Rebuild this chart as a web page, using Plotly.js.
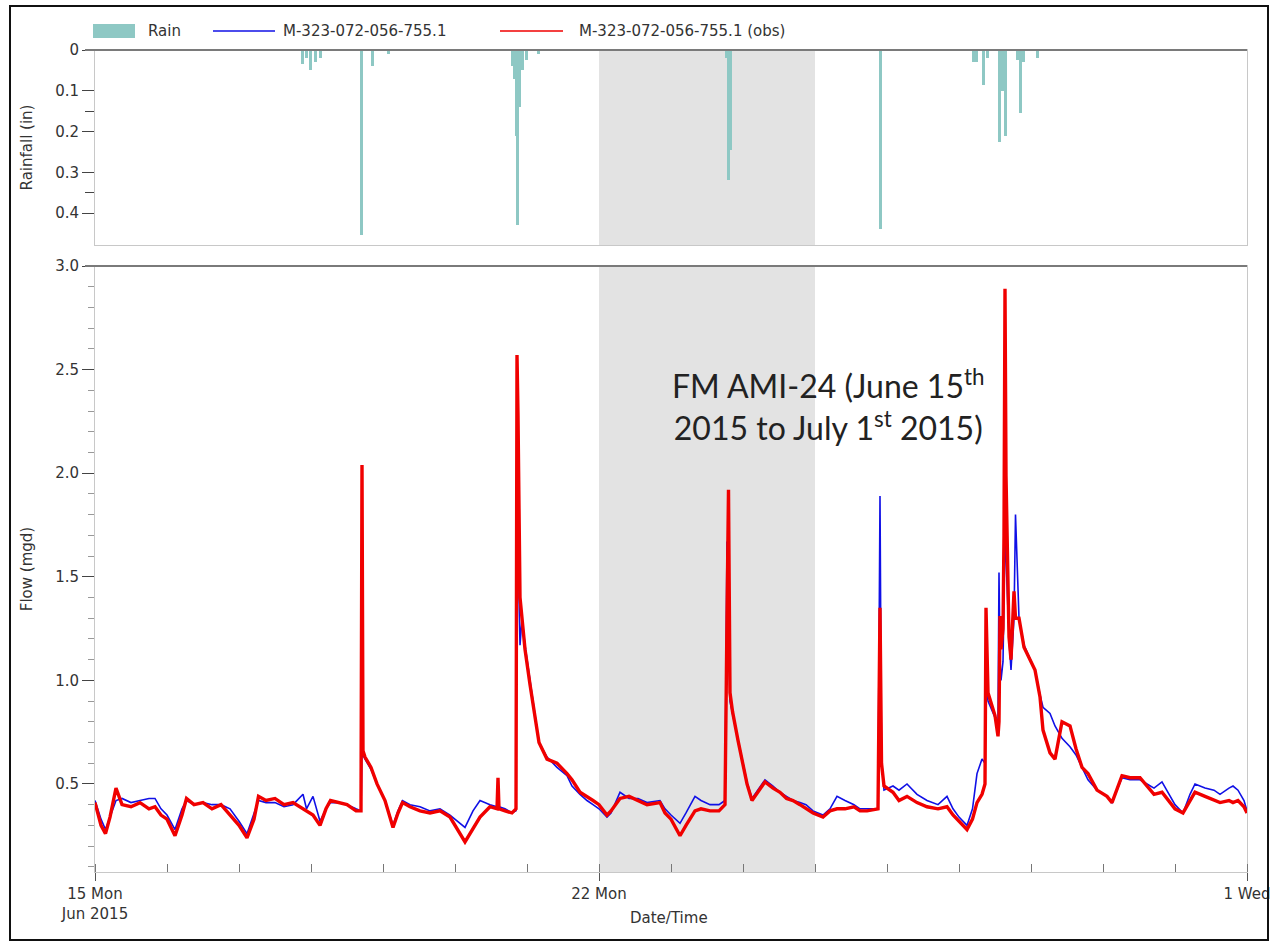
<!DOCTYPE html>
<html>
<head>
<meta charset="utf-8">
<script src="https://cdn.plot.ly/plotly-3.0.1.min.js"></script>
<style>
html,body{margin:0;padding:0;background:#fff;}
#chart{width:1271px;height:944px;}
</style>
</head>
<body>
<div id="chart"></div>
<script>
// ---------- DATA ----------
const rainTimes = [
  "2015-06-17 21:00","2015-06-17 22:20","2015-06-17 23:40","2015-06-18 01:20","2015-06-18 03:00",
  "2015-06-18 16:40","2015-06-18 20:20","2015-06-19 01:40",
  "2015-06-20 19:00","2015-06-20 19:40","2015-06-20 20:20","2015-06-20 20:50","2015-06-20 21:20","2015-06-20 22:20","2015-06-20 23:40","2015-06-21 03:40",
  "2015-06-23 18:20","2015-06-23 19:00","2015-06-23 19:40",
  "2015-06-25 21:40",
  "2015-06-27 04:40","2015-06-27 05:40","2015-06-27 08:00","2015-06-27 09:20","2015-06-27 13:20","2015-06-27 14:20","2015-06-27 15:20",
  "2015-06-27 19:20","2015-06-27 20:20","2015-06-27 21:20","2015-06-28 02:00"
];
const rainValues = [
  0.035,0.02,0.05,0.03,0.02,
  0.455,0.04,0.01,
  0.04,0.07,0.21,0.43,0.14,0.05,0.025,0.01,
  0.02,0.32,0.245,
  0.44,
  0.03,0.03,0.086,0.02,0.225,0.10,0.21,
  0.025,0.155,0.03,0.02
];

const flowTimes = [
  "2015-06-15 00:00","2015-06-15 02:00","2015-06-15 03:30","2015-06-15 05:00","2015-06-15 07:00","2015-06-15 09:00","2015-06-15 12:00","2015-06-15 15:00","2015-06-15 18:00","2015-06-15 20:00","2015-06-15 22:00",
  "2015-06-16 00:00","2015-06-16 02:40","2015-06-16 05:00","2015-06-16 06:30","2015-06-16 09:00","2015-06-16 12:00","2015-06-16 15:00","2015-06-16 18:00","2015-06-16 21:00",
  "2015-06-17 00:00","2015-06-17 02:40","2015-06-17 05:00","2015-06-17 06:30","2015-06-17 09:00","2015-06-17 12:00","2015-06-17 15:00","2015-06-17 18:00","2015-06-17 21:20","2015-06-17 22:30",
  "2015-06-18 00:40","2015-06-18 03:00","2015-06-18 05:00","2015-06-18 06:30","2015-06-18 09:00","2015-06-18 12:00","2015-06-18 15:00","2015-06-18 16:40","2015-06-18 17:00","2015-06-18 17:20","2015-06-18 18:00","2015-06-18 20:00","2015-06-18 22:00",
  "2015-06-19 00:40","2015-06-19 03:20","2015-06-19 05:00","2015-06-19 06:30","2015-06-19 09:00","2015-06-19 12:20","2015-06-19 15:40","2015-06-19 19:00","2015-06-19 22:20",
  "2015-06-20 03:20","2015-06-20 06:00","2015-06-20 08:20","2015-06-20 11:40","2015-06-20 14:00","2015-06-20 14:20","2015-06-20 14:40","2015-06-20 16:40","2015-06-20 19:00","2015-06-20 20:20","2015-06-20 20:40","2015-06-20 21:00","2015-06-20 21:20","2015-06-20 21:40","2015-06-20 22:20","2015-06-20 23:20",
  "2015-06-21 01:00","2015-06-21 02:40","2015-06-21 04:00","2015-06-21 06:40","2015-06-21 10:00","2015-06-21 13:20","2015-06-21 15:00","2015-06-21 17:40","2015-06-21 20:00","2015-06-21 22:00",
  "2015-06-22 00:00","2015-06-22 02:40","2015-06-22 04:00","2015-06-22 07:00","2015-06-22 10:00","2015-06-22 13:00","2015-06-22 16:00","2015-06-22 20:20","2015-06-22 22:00",
  "2015-06-23 00:00","2015-06-23 03:00","2015-06-23 05:00","2015-06-23 08:00","2015-06-23 10:00","2015-06-23 13:00","2015-06-23 16:00","2015-06-23 18:00","2015-06-23 18:40","2015-06-23 19:10","2015-06-23 19:40","2015-06-23 20:30","2015-06-23 22:20",
  "2015-06-24 01:20","2015-06-24 03:00","2015-06-24 05:00","2015-06-24 07:20","2015-06-24 10:00","2015-06-24 12:20","2015-06-24 14:30","2015-06-24 16:40","2015-06-24 19:00","2015-06-24 21:00","2015-06-24 23:20",
  "2015-06-25 02:40","2015-06-25 05:00","2015-06-25 07:20","2015-06-25 10:00","2015-06-25 13:00","2015-06-25 15:00","2015-06-25 17:20","2015-06-25 21:00","2015-06-25 21:40","2015-06-25 22:10","2015-06-25 23:00",
  "2015-06-26 02:00","2015-06-26 04:00","2015-06-26 06:40","2015-06-26 10:00","2015-06-26 13:20","2015-06-26 17:00","2015-06-26 20:00","2015-06-26 22:00",
  "2015-06-27 00:00","2015-06-27 02:40","2015-06-27 04:30","2015-06-27 06:00","2015-06-27 07:40","2015-06-27 08:40","2015-06-27 09:00","2015-06-27 09:40","2015-06-27 12:00","2015-06-27 13:00","2015-06-27 13:20","2015-06-27 13:40","2015-06-27 14:00","2015-06-27 14:40","2015-06-27 15:00","2015-06-27 15:20","2015-06-27 15:40","2015-06-27 16:40","2015-06-27 17:20","2015-06-27 18:20","2015-06-27 18:50","2015-06-27 20:00","2015-06-27 21:40",
  "2015-06-28 01:20","2015-06-28 03:00","2015-06-28 04:00","2015-06-28 06:20","2015-06-28 08:00","2015-06-28 10:20","2015-06-28 13:00","2015-06-28 15:00","2015-06-28 17:00","2015-06-28 19:00","2015-06-28 22:00",
  "2015-06-29 01:20","2015-06-29 03:00","2015-06-29 06:20","2015-06-29 09:00","2015-06-29 12:20","2015-06-29 14:40","2015-06-29 17:00","2015-06-29 19:40","2015-06-29 22:00",
  "2015-06-30 00:00","2015-06-30 02:40","2015-06-30 05:00","2015-06-30 06:40","2015-06-30 10:00","2015-06-30 13:00","2015-06-30 15:00","2015-06-30 18:00","2015-06-30 19:20","2015-06-30 21:00","2015-06-30 23:00",
  "2015-07-01 00:00"
];
const obsFlow = [
  0.41,0.30,0.26,0.34,0.48,0.40,0.39,0.41,0.38,0.39,0.35,
  0.33,0.25,0.35,0.43,0.40,0.41,0.38,0.40,0.35,
  0.30,0.24,0.33,0.44,0.42,0.43,0.40,0.41,0.38,0.37,
  0.35,0.30,0.38,0.42,0.41,0.40,0.37,0.37,2.04,0.66,0.63,0.58,0.50,
  0.42,0.29,0.36,0.41,0.39,0.37,0.36,0.37,0.34,
  0.22,0.28,0.34,0.39,0.38,0.53,0.38,0.37,0.36,0.38,2.57,2.28,1.52,1.40,1.30,1.15,
  0.98,0.82,0.70,0.62,0.60,0.55,0.52,0.46,0.44,0.42,
  0.40,0.35,0.37,0.43,0.44,0.42,0.40,0.41,0.36,
  0.33,0.25,0.30,0.37,0.38,0.37,0.37,0.40,1.30,1.92,0.94,0.85,0.71,
  0.50,0.42,0.46,0.51,0.48,0.46,0.43,0.42,0.40,0.38,0.36,
  0.34,0.37,0.38,0.38,0.39,0.37,0.37,0.38,1.35,0.60,0.49,
  0.46,0.42,0.44,0.41,0.39,0.38,0.39,0.35,
  0.32,0.28,0.33,0.41,0.45,0.50,1.35,0.94,0.83,0.73,0.80,1.31,1.15,1.25,1.70,2.89,1.99,1.21,1.10,1.43,1.30,1.30,1.16,
  1.05,0.92,0.76,0.65,0.62,0.80,0.78,0.67,0.58,0.55,0.47,
  0.44,0.41,0.54,0.53,0.53,0.49,0.45,0.46,0.42,
  0.38,0.36,0.42,0.46,0.44,0.42,0.41,0.42,0.41,0.42,0.39,
  0.36
];
const modelFlow = [
  0.42,0.33,0.28,0.34,0.42,0.43,0.41,0.42,0.43,0.43,0.38,
  0.35,0.28,0.38,0.42,0.40,0.41,0.40,0.40,0.38,
  0.32,0.26,0.36,0.42,0.41,0.41,0.39,0.40,0.45,0.38,
  0.44,0.32,0.38,0.41,0.41,0.40,0.38,0.37,0.68,0.64,0.62,0.57,0.50,
  0.42,0.30,0.37,0.42,0.40,0.39,0.37,0.38,0.35,
  0.29,0.37,0.42,0.40,0.39,0.40,0.39,0.38,0.36,0.37,2.28,2.20,1.40,1.17,1.30,1.17,
  1.00,0.83,0.70,0.63,0.58,0.54,0.49,0.45,0.42,0.40,
  0.38,0.34,0.36,0.46,0.43,0.43,0.41,0.42,0.38,
  0.35,0.31,0.36,0.44,0.42,0.40,0.40,0.42,1.67,1.20,0.90,0.84,0.72,
  0.51,0.43,0.47,0.52,0.49,0.46,0.44,0.42,0.41,0.40,0.37,
  0.35,0.38,0.44,0.42,0.40,0.38,0.38,0.38,1.89,0.62,0.47,
  0.49,0.47,0.50,0.45,0.42,0.40,0.44,0.38,
  0.34,0.30,0.38,0.55,0.62,0.60,1.00,0.90,0.82,0.80,1.52,1.10,1.00,1.09,1.50,1.70,1.60,1.20,1.05,1.30,1.80,1.30,1.17,
  1.05,0.93,0.87,0.84,0.78,0.72,0.68,0.64,0.58,0.52,0.47,
  0.44,0.41,0.53,0.52,0.52,0.50,0.48,0.51,0.45,
  0.40,0.36,0.45,0.50,0.48,0.47,0.45,0.48,0.49,0.47,0.42,
  0.37
];

const seriesNames = ["Rain", "M-323-072-056-755.1", "M-323-072-056-755.1 (obs)"];
const seriesColors = ["#8ec8c4", "#1010e6", "#f00000"];
const xTickVals = ["2015-06-15", "2015-06-22", "2015-07-01"];
const xTickText = ["15 Mon<br>Jun 2015", "22 Mon", "1 Wed"];
const highlightStart = "2015-06-22";
const highlightEnd = "2015-06-25";
const noteText = "FM AMI-24 (June 15<sup>th</sup><br>2015 to July 1<sup>st</sup> 2015)";

// ---------- TRACES ----------
const traces = [
  {
    type: "bar", name: seriesNames[0], x: rainTimes, y: rainValues,
    xaxis: "x2", yaxis: "y2",
    width: 3600000,
    marker: {color: seriesColors[0], line: {width: 0}}
  },
  {
    type: "scatter", mode: "lines", name: seriesNames[1], x: flowTimes, y: modelFlow,
    xaxis: "x", yaxis: "y",
    line: {color: seriesColors[1], width: 1.6}
  },
  {
    type: "scatter", mode: "lines", name: seriesNames[2], x: flowTimes, y: obsFlow,
    xaxis: "x", yaxis: "y",
    line: {color: seriesColors[2], width: 3.4}
  }
];

const FAM = "DejaVu Sans, Liberation Sans, Arial, sans-serif";
const axFont = {family: FAM, size: 15, color: "#333"};
const L = 95, R = 24, T = 50, B = 72, W = 1271, H = 944;
const pw = W - L - R, ph = H - T - B;
const px2x = p => (p - L) / pw;
const py2y = p => (H - B - p) / ph;

// custom legend (positions in pixels)
const legY = 31;
const legendShapes = [
  {type: "rect", xref: "paper", yref: "paper", x0: px2x(93), x1: px2x(135), y0: py2y(38), y1: py2y(24),
   fillcolor: seriesColors[0], line: {width: 0}},
  {type: "line", xref: "paper", yref: "paper", x0: px2x(213), x1: px2x(275), y0: py2y(legY), y1: py2y(legY),
   line: {color: seriesColors[1], width: 1.6}},
  {type: "line", xref: "paper", yref: "paper", x0: px2x(500), x1: px2x(563), y0: py2y(legY), y1: py2y(legY),
   line: {color: seriesColors[2], width: 1.6}}
];
const legendTexts = [
  {x: 146, text: seriesNames[0]},
  {x: 281, text: seriesNames[1]},
  {x: 577, text: seriesNames[2]}
].map(o => ({xref: "paper", yref: "paper", x: px2x(o.x), y: py2y(legY), xanchor: "left", yanchor: "middle",
  text: o.text, showarrow: false, font: {family: FAM, size: 15, color: "#333"}}));

const layout = {
  width: W, height: H,
  margin: {l: L, r: R, t: T, b: B},
  paper_bgcolor: "#ffffff",
  plot_bgcolor: "#ffffff",
  font: axFont,
  showlegend: false,
  bargap: 0,
  xaxis: {
    type: "date", domain: [0, 1], anchor: "y",
    range: ["2015-06-15", "2015-07-01"],
    tickmode: "array", tickvals: xTickVals, ticktext: xTickText,
    ticks: "outside", ticklen: 8, tickcolor: "#555", tickwidth: 1,
    minor: {tickmode: "linear", tick0: "2015-06-15", dtick: 86400000, ticks: "inside", ticklen: 8, tickcolor: "#777", tickwidth: 1, showgrid: false},
    showgrid: false, zeroline: false,
    showline: true, linecolor: "#c8c8c8", linewidth: 1, mirror: true,
    tickfont: axFont
  },
  yaxis: {
    domain: [0, py2y(266)], anchor: "x",
    range: [0.075, 3.0],
    tickmode: "linear", tick0: 0, dtick: 0.5, tickformat: ".1f",
    ticks: "outside", ticklen: 12, tickcolor: "#444", tickwidth: 1,
    minor: {tickmode: "linear", tick0: 0, dtick: 0.1, ticks: "outside", ticklen: 6, tickcolor: "#999", showgrid: false},
    showgrid: false, zeroline: false,
    showline: true, linecolor: "#c8c8c8", linewidth: 1, mirror: true,
    tickfont: axFont,
    title: {text: "Flow (mgd)", font: axFont, standoff: 18}
  },
  xaxis2: {
    type: "date", domain: [0, 1], anchor: "y2", matches: "x",
    range: ["2015-06-15", "2015-07-01"],
    showticklabels: false, ticks: "",
    showgrid: false, zeroline: false,
    showline: true, linecolor: "#c8c8c8", linewidth: 1, mirror: true
  },
  yaxis2: {
    domain: [py2y(245), 1], anchor: "x2",
    range: [0.4785, 0], autorange: false,
    tickmode: "array", tickvals: [0, 0.1, 0.2, 0.3, 0.4], ticktext: ["0", "0.1", "0.2", "0.3", "0.4"],
    ticks: "outside", ticklen: 12, tickcolor: "#444",
    minor: {tickmode: "array", tickvals: [0.15, 0.35], ticks: "outside", ticklen: 9, tickcolor: "#444"},
    showgrid: false, zeroline: false,
    showline: true, linecolor: "#c8c8c8", linewidth: 1, mirror: true,
    tickfont: axFont,
    title: {text: "Rainfall (in)", font: axFont, standoff: 18}
  },
  shapes: [
    {type: "rect", xref: "x", yref: "y domain", x0: highlightStart, x1: highlightEnd, y0: 0, y1: 1,
     fillcolor: "#e3e3e3", line: {width: 0}, layer: "below"},
    {type: "rect", xref: "x2", yref: "y2 domain", x0: highlightStart, x1: highlightEnd, y0: 0, y1: 1,
     fillcolor: "#e3e3e3", line: {width: 0}, layer: "below"},
    {type: "line", xref: "paper", yref: "y2 domain", x0: px2x(85), x1: 1, y0: 1, y1: 1,
     line: {color: "#7a7a7a", width: 2}},
    {type: "line", xref: "paper", yref: "y domain", x0: px2x(85), x1: 1, y0: 1, y1: 1,
     line: {color: "#7a7a7a", width: 2}},
    {type: "rect", xref: "paper", yref: "paper",
     x0: px2x(10), x1: px2x(1268), y0: py2y(940), y1: py2y(6),
     line: {color: "#111", width: 2}, fillcolor: "rgba(0,0,0,0)"}
  ].concat(legendShapes),
  annotations: [
    {xref: "paper", yref: "paper", x: px2x(828), y: py2y(405), xanchor: "center", yanchor: "middle",
     text: noteText, showarrow: false, align: "center",
     font: {family: "Lato, 'Open Sans', sans-serif", size: 32, color: "#222"}},
    {xref: "paper", yref: "paper", x: px2x(669), y: py2y(918), xanchor: "center", yanchor: "middle",
     text: "Date/Time", showarrow: false, font: axFont}
  ].concat(legendTexts)
};

Plotly.newPlot("chart", traces, layout, {displayModeBar: false, staticPlot: true});
</script>
</body>
</html>
